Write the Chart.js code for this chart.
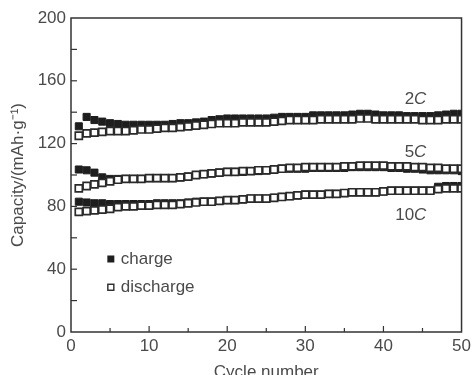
<!DOCTYPE html>
<html>
<head>
<meta charset="utf-8">
<script src="https://cdn.jsdelivr.net/npm/chart.js@4"></script>
<style>
  html, body { margin: 0; padding: 0; background: #fff; }
</style>
</head>
<body>
<canvas id="cap" width="475" height="375"></canvas>
<script>
var cycles = [];
for (var i = 1; i <= 50; i++) cycles.push(i);

var charge2C = [131, 137, 135, 134, 133, 132.5, 132, 132, 132, 132, 132, 132, 132.5, 133, 133, 133.5, 134, 135, 135.5, 136,
  136, 136, 136, 136, 136, 136.5, 137, 137, 137, 137, 138, 138, 138, 138, 138, 138.5, 139, 139, 138.5, 138,
  138, 138, 137.5, 137.5, 137.5, 137.5, 138, 138.5, 139, 139];
var discharge2C = [125, 126.5, 127, 127.5, 128, 128, 128, 128.5, 129, 129, 129.5, 130, 130, 130.5, 131, 131.5, 132, 132.5, 133, 133,
  133, 133.5, 133.5, 133.5, 133.5, 134, 134.5, 135, 135, 135, 135, 135.5, 135.5, 135.5, 135.5, 135.5, 136, 136, 135.5, 135.5,
  135.5, 135.5, 135.5, 135.5, 135, 135, 135, 135.5, 135.5, 135.5];
var charge5C = [103.5, 103, 101.5, 98.5, 97.5, 97.5, 97.5, 97.5, 97.5, 98, 98, 98, 98, 98.5, 99, 100, 100.5, 101, 101.5, 102,
  102, 102, 102.5, 102.5, 103, 103.5, 104, 104, 104, 104, 104.5, 104.5, 104.5, 104.5, 104.5, 105, 105, 105, 105, 105,
  104.5, 104.5, 104, 104, 103.5, 103, 103, 103, 103, 102.5];
var discharge5C = [91.5, 93, 94, 95, 96, 97, 97.5, 97.5, 97.5, 98, 98, 98, 98, 98.5, 99, 100, 100.5, 101, 101.5, 102,
  102, 102.5, 102.5, 103, 103, 103.5, 104, 104.5, 104.5, 105, 105, 105, 105, 105, 105.5, 105.5, 106, 106, 106, 106,
  105.5, 105.5, 105.5, 105, 105, 104.5, 104.5, 104, 104, 104];
var charge10C = [83, 82.5, 82, 82, 81.5, 81.5, 81.5, 81.5, 81.5, 81.5, 82, 82, 82, 82, 82.5, 83, 83, 83, 83.5, 84,
  84, 84.5, 85, 85, 85, 85.5, 86, 86.5, 87, 87.5, 87.5, 87.5, 88, 88, 88.5, 89, 89, 89, 89, 89.5,
  90, 90, 90, 90, 90, 90, 92.5, 93, 93, 93];
var discharge10C = [76.5, 77, 77.5, 78, 78.5, 79.5, 80, 80, 80.5, 80.5, 81, 81, 81, 81.5, 82, 82.5, 83, 83, 83.5, 84,
  84, 84.5, 85, 85, 85, 85.5, 86, 86.5, 87, 87.5, 87.5, 87.5, 88, 88, 88.5, 89, 89, 89, 89, 89.5,
  90, 90, 90, 90, 90, 90, 91, 91.5, 91.5, 91.5];

var rateNames = ["2", "5", "10"];
var rateLabelX = [45.5, 45.5, 45.5];
var rateLabelY = [148, 114.5, 74.5];
var legendNames = ["charge", "discharge"];

var ink = "#333";
var textInk = "#4a4a4a";
var font = "'Liberation Sans', Arial, sans-serif";

function pts(ys) {
  return cycles.map(function (c, k) { return { x: c, y: ys[k] }; });
}
function chargeSet(ys) {
  return { data: pts(ys), pointStyle: "rect", pointRadius: 5, pointBorderWidth: 1,
    backgroundColor: "#1e1e1e", borderColor: "#1e1e1e", order: 1 };
}
function dischargeSet(ys) {
  return { data: pts(ys), pointStyle: "rect", pointRadius: 5, pointBorderWidth: 1.7,
    backgroundColor: "#fff", borderColor: "#2a2a2a", order: 0 };
}

// frame, inward ticks, rate labels and the legend
var decor = {
  id: "decor",
  afterDraw: function (chart) {
    var c = chart.ctx, a = chart.chartArea;
    var xs = chart.scales.x, ys = chart.scales.y;
    c.save();
    c.strokeStyle = ink;
    c.lineWidth = 1.5;
    c.strokeRect(a.left, a.top, a.right - a.left, a.bottom - a.top);
    c.lineWidth = 1.2;
    for (var v = 5; v < 50; v += 5) {
      var px = xs.getPixelForValue(v), len = v % 10 === 0 ? 6 : 4;
      c.beginPath(); c.moveTo(px, a.bottom); c.lineTo(px, a.bottom - len); c.stroke();
    }
    for (var w = 20; w < 200; w += 20) {
      var py = ys.getPixelForValue(w);
      c.beginPath(); c.moveTo(a.left, py); c.lineTo(a.left + 6, py); c.stroke();
    }
    // rate labels
    c.fillStyle = textInk;
    c.textBaseline = "middle";
    for (var k = 0; k < rateNames.length; k++) {
      var x = xs.getPixelForValue(rateLabelX[k]), y = ys.getPixelForValue(rateLabelY[k]);
      c.textAlign = "right";
      c.font = "italic 17px " + font;
      var cw = c.measureText("C").width;
      c.fillText("C", x, y);
      c.font = "17px " + font;
      c.fillText(rateNames[k], x - cw, y);
    }
    // legend
    c.textAlign = "left";
    c.font = "17px " + font;
    var lx = xs.getPixelForValue(5.1);
    var ly = [ys.getPixelForValue(46.5), ys.getPixelForValue(28.5)];
    c.fillStyle = "#1e1e1e";
    c.fillRect(lx - 3.5, ly[0] - 3.5, 7, 7);
    c.strokeStyle = "#2a2a2a";
    c.lineWidth = 1.4;
    c.strokeRect(lx - 3, ly[1] - 3, 6, 6);
    c.fillStyle = textInk;
    c.fillText(legendNames[0], lx + 10, ly[0]);
    c.fillText(legendNames[1], lx + 10, ly[1]);
    c.restore();
  }
};

new Chart(document.getElementById("cap").getContext("2d"), {
  type: "scatter",
  data: {
    datasets: [
      chargeSet(charge2C), dischargeSet(discharge2C),
      chargeSet(charge5C), dischargeSet(discharge5C),
      chargeSet(charge10C), dischargeSet(discharge10C),
    ],
  },
  options: {
    responsive: false,
    animation: false,
    devicePixelRatio: 1,
    layout: { padding: { top: 18, right: 12, left: 0, bottom: 0 } },
    plugins: { legend: { display: false }, tooltip: { enabled: false } },
    scales: {
      x: {
        min: 0, max: 50,
        grid: { display: false, drawTicks: false },
        border: { display: false },
        ticks: { stepSize: 10, padding: 4, color: textInk, font: { family: font, size: 17 } },
        title: { display: true, text: "Cycle number", color: textInk, font: { family: font, size: 17 }, padding: { top: 0, bottom: -8 } },
        afterFit: function (s) { s.height = 43; },
      },
      y: {
        min: 0, max: 200,
        grid: { display: false, drawTicks: false },
        border: { display: false },
        ticks: { stepSize: 40, padding: 5, color: textInk, font: { family: font, size: 17 } },
        title: { display: true, text: "Capacity/(mAh·g⁻¹)", color: textInk, font: { family: font, size: 17 }, padding: { top: 8, bottom: 0 } },
        afterFit: function (s) { s.width = 71; },
      },
    },
  },
  plugins: [decor],
});
</script>
</body>
</html>
